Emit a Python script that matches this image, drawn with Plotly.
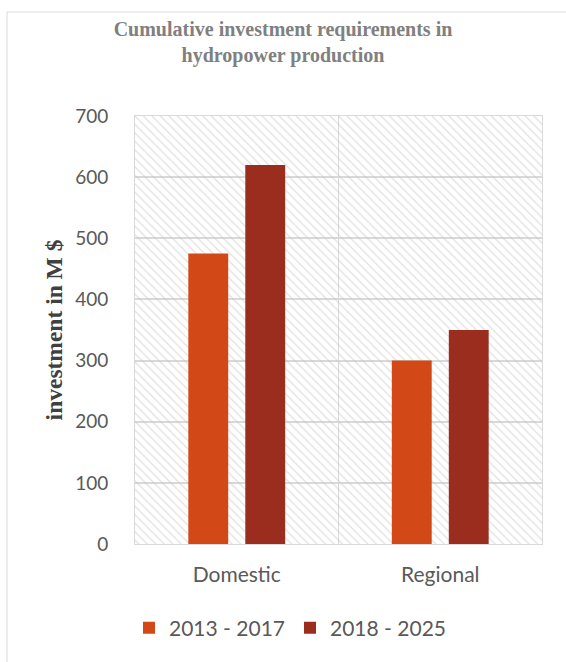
import plotly.graph_objects as go

# ---- data ----
categories = ["Domestic", "Regional"]
series_names = ["2013 - 2017", "2018 - 2025"]
values_2013_2017 = [475, 300]
values_2018_2025 = [620, 350]
y_tick_values = [0, 100, 200, 300, 400, 500, 600, 700]
title_text = "Cumulative investment requirements in<br>hydropower production"
y_title = "investment in M $"

colors = ["#D34817", "#9B2D1F"]
W, H = 566, 662
L, R, T, B = 135, 24, 116, 118

x_pos = list(range(len(categories)))
y_max = max(y_tick_values)
x_range = [-0.5, len(categories) - 0.5]

fig = go.Figure()

# hatched plot-area background (decoration) on the base axes
fig.add_trace(go.Bar(
    x=[(len(categories) - 1) / 2], y=[y_max], width=[len(categories)],
    marker=dict(color="rgba(0,0,0,0)", line=dict(width=0),
                pattern=dict(shape="\\", fgcolor="#C4C4C4", bgcolor="rgba(0,0,0,0)",
                             size=6, solidity=0.22)),
    showlegend=False, hoverinfo="skip", xaxis="x", yaxis="y"))

for name, vals, col in zip(series_names, [values_2013_2017, values_2018_2025], colors):
    fig.add_trace(go.Bar(x=x_pos, y=vals, name=name, marker=dict(color=col, line=dict(width=0)),
                         xaxis="x2", yaxis="y2"))

tick_font = dict(family="Lato, Open Sans, sans-serif", size=19, color="#595959")
cat_font = dict(family="Lato, Open Sans, sans-serif", size=21, color="#595959")
leg_font = dict(family="Lato, Open Sans, sans-serif", size=21, color="#595959")

fig.update_layout(
    width=W, height=H,
    margin=dict(l=L, r=R, t=T, b=B),
    paper_bgcolor="white", plot_bgcolor="white",
    barmode="group", bargap=0.44, bargroupgap=0.3,
    title=dict(text=title_text, x=0.5, xanchor="center", xref="container",
               y=1 - 36 / H, yanchor="top", yref="container",
               font=dict(family="Liberation Serif, Times New Roman, serif", size=20,
                         color="#808080", weight="bold")),
    xaxis=dict(range=x_range, tickmode="array", tickvals=x_pos, ticktext=categories,
               showgrid=False, showline=True, linecolor="#D9D9D9", linewidth=1, mirror=True,
               ticks="", ticklabelstandoff=12, tickfont=cat_font, zeroline=False,
               minor=dict(tickmode="array", tickvals=[i + 0.5 for i in x_pos[:-1]],
                          showgrid=True, gridcolor="#D9D9D9", gridwidth=1, ticks="")),
    yaxis=dict(range=[0, y_max], tickmode="array", tickvals=y_tick_values,
               showgrid=True, gridcolor="#D9D9D9", gridwidth=2,
               showline=True, linecolor="#D9D9D9", linewidth=1, mirror=True,
               zeroline=False, ticks="", ticklabelstandoff=22, tickfont=tick_font,
               title=dict(text=y_title, standoff=5,
                          font=dict(family="Liberation Serif, Times New Roman, serif", size=23.5,
                                    color="#404040", weight="bold"))),
    xaxis2=dict(range=x_range, overlaying="x", visible=False),
    yaxis2=dict(range=[0, y_max], overlaying="y", visible=False),
    legend=dict(orientation="h", x=(290 - L) / (W - L - R), xanchor="center",
                y=(H - B - 628) / (H - T - B), yanchor="middle",
                font=leg_font, itemwidth=30, traceorder="normal"),
    shapes=[dict(type="rect", xref="paper", yref="paper",
                 x0=(7 - L) / (W - L - R), x1=1.2,
                 y0=-0.5, y1=(H - B - 12) / (H - T - B),
                 line=dict(color="#D9D9D9", width=1), fillcolor="rgba(0,0,0,0)", layer="above")],
)

fig.write_html("out.html")
